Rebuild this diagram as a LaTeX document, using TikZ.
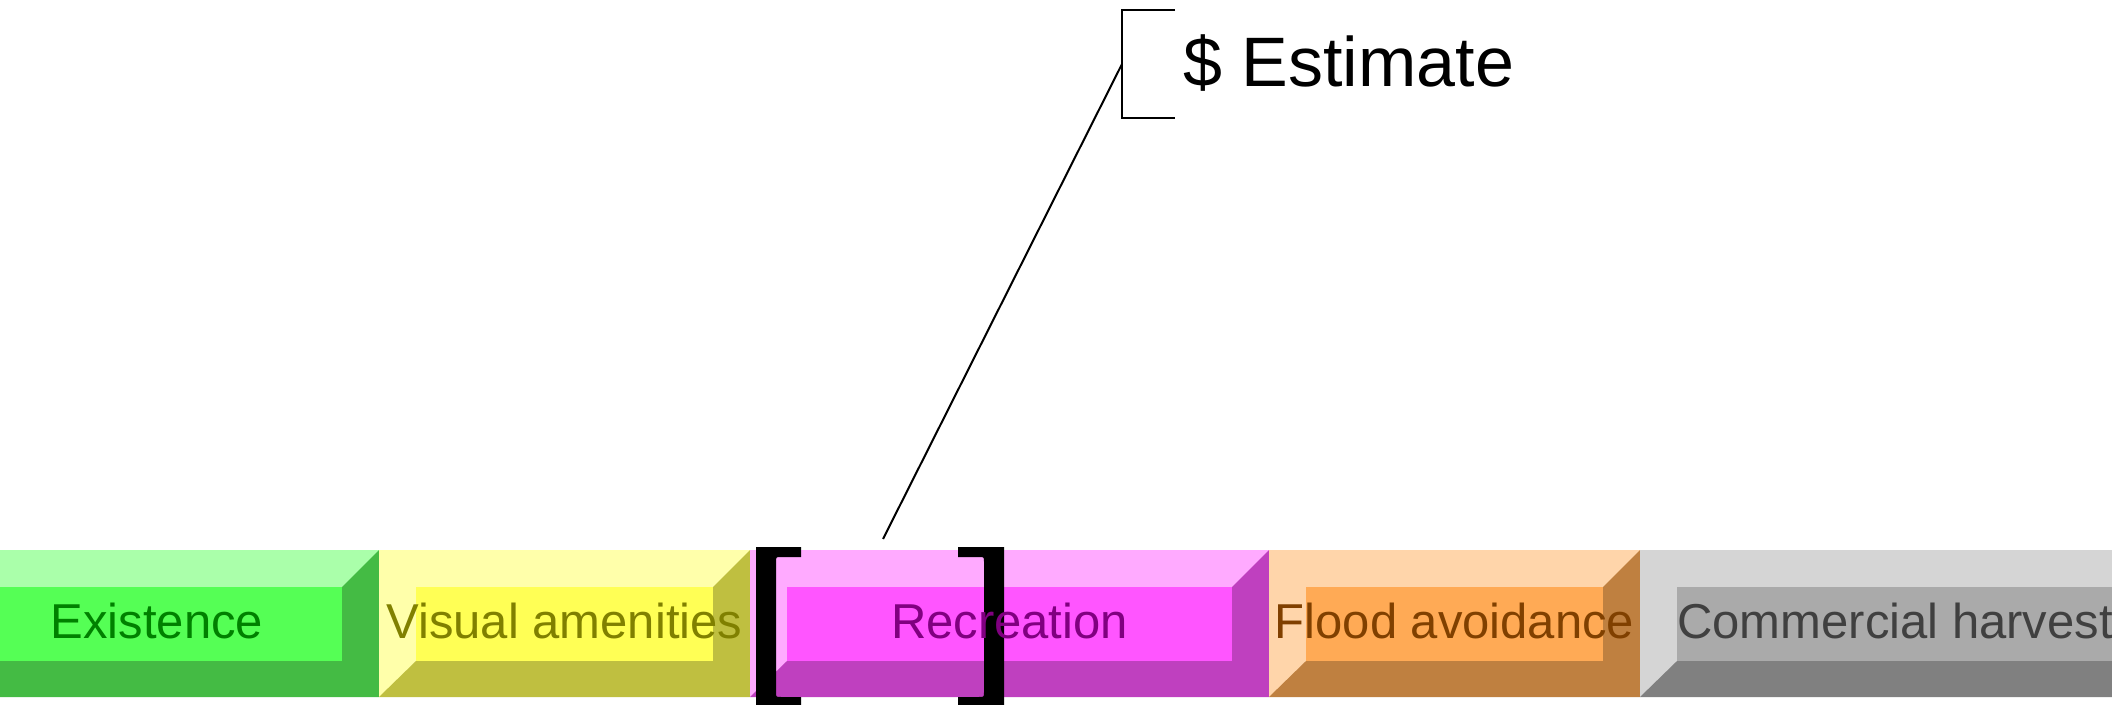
\documentclass[tikz,border=0pt]{standalone}
\usepackage{fontspec}
\setmainfont{Liberation Sans}
\definecolor{gL}{HTML}{AAFFAA}\definecolor{gM}{HTML}{55FF55}\definecolor{gD}{HTML}{44BB44}\definecolor{gT}{HTML}{008000}
\definecolor{yL}{HTML}{FFFFAA}\definecolor{yM}{HTML}{FFFF55}\definecolor{yD}{HTML}{BFBF40}\definecolor{yT}{HTML}{808000}
\definecolor{mL}{HTML}{FFAAFF}\definecolor{mM}{HTML}{FF55FF}\definecolor{mD}{HTML}{BF40BF}\definecolor{mT}{HTML}{800080}
\definecolor{oL}{HTML}{FFD5AA}\definecolor{oM}{HTML}{FFAA55}\definecolor{oD}{HTML}{BF8040}\definecolor{oT}{HTML}{804000}
\definecolor{kL}{HTML}{D5D5D5}\definecolor{kM}{HTML}{AAAAAA}\definecolor{kD}{HTML}{808080}\definecolor{kT}{HTML}{404040}
\newcommand\bevbox[3]{%
  \fill[#3L] (#1,550) rectangle (#2,697);
  \fill[#3D] (#2,550) -- (#2,697) -- (#1,697) -- ({#1+37},661) -- ({#2-37},661) -- ({#2-37},587) -- cycle;
  \fill[#3M] ({#1+37},587) rectangle ({#2-37},661);
}
\begin{document}
\begin{tikzpicture}[x=0.5pt,y=-0.5pt,
  lbl/.style={font=\fontsize{24.5}{29}\selectfont, anchor=base, inner sep=0pt},
  estlbl/.style={font=\fontsize{35}{42}\selectfont, anchor=base west, inner sep=0pt},
  callout/.style={draw=black, line width=1pt}]
\useasboundingbox (0,0) rectangle (2112,705);
\clip (0,0) rectangle (2112,705);
% bevelled boxes
\bevbox{-65}{379}{g}
\bevbox{379}{750}{y}
\bevbox{750}{1269}{m}
\bevbox{1269}{1640}{o}
\bevbox{1640}{2150}{k}
% brackets
\fill[black] (756,547) -- (801,547) -- (801,557) -- (781,557) .. controls (776,557) .. (776,562)
  -- (776,692) .. controls (776,697) .. (781,697) -- (801,697) -- (801,707) -- (756,707) -- cycle;
\fill[black] (1004,547) -- (958,547) -- (958,557) -- (979,557) .. controls (984,557) .. (984,562)
  -- (984,692) .. controls (984,697) .. (979,697) -- (958,697) -- (958,707) -- (1004,707) -- cycle;
% labels
\node[lbl,text=gT] (existence) at (157,638) {Existence};
\node[lbl,text=yT] (visual) at (564.5,638) {Visual amenities};
\node[lbl,text=mT] (recreation) at (1009.5,638) {Recreation};
\node[lbl,text=oT] (flood) at (1454.5,638) {Flood avoidance};
\node[lbl,text=kT] (commercial) at (1895,638) {Commercial harvest};
% callout
\coordinate (tip) at (883,539);
\coordinate (cb) at (1122,64);
\draw[callout] (1175,10) -- (1122,10) -- (1122,118) -- (1175,118);
\draw[callout] (tip) -- (cb);
\node[estlbl] (estimate) at (1183,87) {\$ Estimate};
\end{tikzpicture}
\end{document}
